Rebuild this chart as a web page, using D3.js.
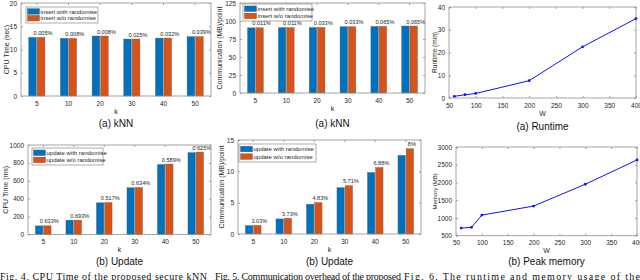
<!DOCTYPE html>
<html>
<head>
<meta charset="utf-8">
<script src="https://cdn.jsdelivr.net/npm/d3@7"></script>
<style>
  body { margin: 0; background: #fff; }
  svg { display: block; font-family: "Liberation Sans", Arial, sans-serif; }
</style>
</head>
<body>
<svg id="fig" width="640" height="280"></svg>
<script>
// ---- data ----
var kCats = ["5", "10", "20", "30", "40", "50"];

var knnCpuWith    = [12.6, 12.4, 12.9, 12.25, 12.45, 12.75];
var knnCpuWithout = [12.6, 12.4, 12.9, 12.25, 12.45, 12.75];
var knnCpuPct     = ["0.005%", "0.008%", "0.008%", "0.025%", "0.032%", "0.039%"];

var knnCommWith    = [90.5, 90.7, 91.0, 92.0, 92.5, 93.0];
var knnCommWithout = [90.5, 90.7, 91.0, 92.0, 92.5, 93.0];
var knnCommPct     = ["0.011%", "0.011%", "0.033%", "0.033%", "0.065%", "0.065%"];

var updCpuWith    = [96, 160, 354, 522, 782, 915];
var updCpuWithout = [97, 161, 356, 525, 787, 921];
var updCpuPct     = ["0.633%", "0.693%", "0.517%", "0.634%", "0.589%", "0.625%"];

var updCommWith    = [1.33, 2.4, 4.75, 7.4, 9.8, 12.55];
var updCommWithout = [1.37, 2.5, 5.0, 7.7, 10.6, 13.6];
var updCommPct     = ["3.03%", "3.73%", "4.83%", "5.71%", "6.88%", "8%"];

var wVals      = [60, 80, 100, 200, 300, 400];
var runtimeMin = [0.73, 1.45, 2.0, 7.6, 22.5, 34.9];
var memoryMB   = [715, 735, 1080, 1335, 1950, 2635];

var blue = "#0072BD", orange = "#D95319", axisCol = "#8f8f8f", txtCol = "#262626";
var fmt = d3.format("d");

var svg = d3.select("#fig");

function frame(g, box) {
  // MATLAB-like box round the plot area
  g.append("rect")
    .attr("x", box.left).attr("y", box.top)
    .attr("width", box.right - box.left).attr("height", box.bottom - box.top)
    .attr("fill", "none").attr("stroke", axisCol).attr("stroke-width", 0.8);
}

function styleAxis(sel) {
  sel.select(".domain").remove();
  sel.selectAll(".tick line").attr("stroke", axisCol).attr("stroke-width", 0.8);
  sel.selectAll(".tick text").attr("fill", txtCol).style("font-size", "6.5px")
    .style("font-family", "Liberation Sans, Arial, sans-serif");
}

function labels(g, box, cfg) {
  g.append("text")
    .attr("transform", "translate(" + cfg.ylx + "," + ((box.top + box.bottom) / 2) + ") rotate(-90)")
    .attr("text-anchor", "middle").attr("dy", "0.35em")
    .style("font-size", cfg.ylSize || "7px").attr("fill", txtCol)
    .text(cfg.ylabel);
  g.append("text")
    .attr("x", (box.left + box.right) / 2).attr("y", box.bottom + 17.5)
    .attr("text-anchor", "middle").style("font-size", "7px").attr("fill", txtCol)
    .text(cfg.xlabel);
  g.append("text")
    .attr("x", (box.left + box.right) / 2).attr("y", cfg.capy)
    .attr("text-anchor", "middle").style("font-size", "10px").attr("fill", "#111")
    .text(cfg.caption);
}

function drawBars(cfg) {
  var box = cfg.box;
  var g = svg.append("g");
  var x0 = d3.scaleBand().domain(kCats).range([box.left, box.right]).padding(0);
  var bw = x0.bandwidth();
  var x1 = d3.scaleBand().domain(["with", "without"])
    .range([bw * 0.245, bw * 0.755]).paddingInner(0.1);
  var y = d3.scaleLinear().domain(cfg.ydom).range([box.bottom, box.top]);

  var rows = kCats.map(function (k, i) {
    return { k: k, with: cfg.a[i], without: cfg.b[i], pct: cfg.pct[i] };
  });

  var groups = g.selectAll(".grp").data(rows).enter().append("g")
    .attr("transform", function (d) { return "translate(" + x0(d.k) + ",0)"; });
  groups.selectAll("rect")
    .data(function (d) { return [{ key: "with", v: d.with }, { key: "without", v: d.without }]; })
    .enter().append("rect")
    .attr("x", function (d) { return x1(d.key); })
    .attr("width", x1.bandwidth())
    .attr("y", function (d) { return y(d.v); })
    .attr("height", function (d) { return y(cfg.ydom[0]) - y(d.v); })
    .attr("fill", function (d) { return d.key === "with" ? blue : orange; })
    .attr("stroke", "#5a5a5a").attr("stroke-width", 0.4);
  groups.append("text")
    .attr("x", x1("without") + x1.bandwidth() / 2 + 2)
    .attr("y", function (d) { return y(d.without) - 2.5; })
    .attr("text-anchor", "middle").style("font-size", "5.6px").attr("fill", txtCol)
    .text(function (d) { return d.pct; });

  var ax = g.append("g").attr("transform", "translate(0," + box.bottom + ")")
    .call(d3.axisBottom(x0).tickSizeInner(-2).tickSizeOuter(0).tickPadding(5));
  styleAxis(ax);
  var axT = g.append("g").attr("transform", "translate(0," + box.top + ")")
    .call(d3.axisTop(x0).tickSizeInner(-2).tickSizeOuter(0).tickFormat(""));
  styleAxis(axT);
  var ay = g.append("g").attr("transform", "translate(" + box.left + ",0)")
    .call(d3.axisLeft(y).tickValues(cfg.yticks).tickFormat(fmt)
      .tickSizeInner(-2).tickSizeOuter(0).tickPadding(4));
  styleAxis(ay);
  var ayR = g.append("g").attr("transform", "translate(" + box.right + ",0)")
    .call(d3.axisRight(y).tickValues(cfg.yticks).tickSizeInner(-2).tickSizeOuter(0).tickFormat(""));
  styleAxis(ayR);
  frame(g, box);

  // legend
  var L = cfg.legend;
  var lg = g.append("g");
  lg.append("rect").attr("x", L.x).attr("y", L.y).attr("width", L.w).attr("height", L.h)
    .attr("fill", "#fff").attr("stroke", "#777").attr("stroke-width", 0.6);
  [[blue, cfg.names[0]], [orange, cfg.names[1]]].forEach(function (e, i) {
    var cy = L.y + L.h * (i === 0 ? 0.28 : 0.7);
    lg.append("rect").attr("x", L.x + 1.5).attr("y", cy - 2.8).attr("width", 12).attr("height", 5.6)
      .attr("fill", e[0]).attr("stroke", "#5a5a5a").attr("stroke-width", 0.4);
    lg.append("text").attr("x", L.x + 14.5).attr("y", cy).attr("dy", "0.35em")
      .style("font-size", "6px").attr("fill", txtCol).text(e[1]);
  });

  labels(g, box, cfg);
}

function drawLine(cfg) {
  var box = cfg.box;
  var g = svg.append("g");
  var x = d3.scaleLinear().domain([50, 400]).range([box.left, box.right]);
  var y = d3.scaleLinear().domain(cfg.ydom).range([box.bottom, box.top]);
  var xt = d3.range(50, 401, 50);

  var ax = g.append("g").attr("transform", "translate(0," + box.bottom + ")")
    .call(d3.axisBottom(x).tickValues(xt).tickSizeInner(-2).tickSizeOuter(0).tickPadding(5));
  styleAxis(ax);
  var axT = g.append("g").attr("transform", "translate(0," + box.top + ")")
    .call(d3.axisTop(x).tickValues(xt).tickSizeInner(-2).tickSizeOuter(0).tickFormat(""));
  styleAxis(axT);
  var ay = g.append("g").attr("transform", "translate(" + box.left + ",0)")
    .call(d3.axisLeft(y).tickValues(cfg.yticks).tickFormat(fmt)
      .tickSizeInner(-2).tickSizeOuter(0).tickPadding(4));
  styleAxis(ay);
  var ayR = g.append("g").attr("transform", "translate(" + box.right + ",0)")
    .call(d3.axisRight(y).tickValues(cfg.yticks).tickSizeInner(-2).tickSizeOuter(0).tickFormat(""));
  styleAxis(ayR);
  frame(g, box);

  var pts = wVals.map(function (w, i) { return [w, cfg.vals[i]]; });
  var line = d3.line()
    .x(function (d) { return x(d[0]); })
    .y(function (d) { return y(d[1]); });
  g.append("path").datum(pts).attr("d", line)
    .attr("fill", "none").attr("stroke", "#1010ff").attr("stroke-width", 1);
  g.selectAll(".pt").data(pts).enter().append("circle")
    .attr("cx", function (d) { return x(d[0]); })
    .attr("cy", function (d) { return y(d[1]); })
    .attr("r", 1.4).attr("fill", "#1010ff");

  labels(g, box, cfg);
}

drawBars({
  box: { left: 21, right: 211, top: 3, bottom: 96 },
  ydom: [0, 20], yticks: [0, 5, 10, 15, 20],
  a: knnCpuWith, b: knnCpuWithout, pct: knnCpuPct,
  names: ["insert with randomise", "insert w/o randomise"],
  legend: { x: 26, y: 7, w: 72, h: 16 },
  ylabel: "CPU Time (sec)", ylx: 7, xlabel: "k",
  caption: "(a) kNN", capy: 127
});
drawBars({
  box: { left: 240, right: 425, top: 3, bottom: 93 },
  ydom: [0, 125], yticks: [0, 25, 50, 75, 100, 125],
  a: knnCommWith, b: knnCommWithout, pct: knnCommPct,
  names: ["insert with randomise", "insert w/o randomise"],
  legend: { x: 243, y: 4, w: 69, h: 17 },
  ylabel: "Communication (MB)/point", ylx: 220, xlabel: "k",
  caption: "(a) kNN", capy: 127
});
drawLine({
  box: { left: 449, right: 636, top: 7, bottom: 98 },
  ydom: [0, 40], yticks: [0, 10, 20, 30, 40], vals: runtimeMin,
  ylabel: "Runtime (min)", ylx: 435, ylSize: "6.5px", xlabel: "W",
  caption: "(a) Runtime", capy: 130
});
drawBars({
  box: { left: 28, right: 211, top: 145, bottom: 234.5 },
  ydom: [0, 1000], yticks: [0, 200, 400, 600, 800, 1000],
  a: updCpuWith, b: updCpuWithout, pct: updCpuPct,
  names: ["update with randomise", "update w/o randomise"],
  legend: { x: 32, y: 148, w: 71, h: 17 },
  ylabel: "CPU Time (ms)", ylx: 6, xlabel: "k",
  caption: "(b) Update", capy: 265
});
drawBars({
  box: { left: 238, right: 421, top: 140, bottom: 234 },
  ydom: [0, 15], yticks: [0, 5, 10, 15],
  a: updCommWith, b: updCommWithout, pct: updCommPct,
  names: ["update with randomise", "update w/o randomise"],
  legend: { x: 239, y: 144, w: 77, h: 18 },
  ylabel: "Communication (MB)/point", ylx: 222, xlabel: "k",
  caption: "(b) Update", capy: 265
});
drawLine({
  box: { left: 456, right: 637, top: 147, bottom: 235.7 },
  ydom: [500, 3000], yticks: [500, 1000, 1500, 2000, 2500, 3000], vals: memoryMB,
  ylabel: "Memory (MB)", ylx: 435, ylSize: "6px", xlabel: "W",
  caption: "(b) Peak memory", capy: 265
});

// figure captions, cut off by the bottom edge as in the source
var caps = [
  { x0: 0, x1: 207, t: "Fig. 4.  CPU Time of the proposed secure kNN" },
  { x0: 215, x1: 401, t: "Fig. 5.  Communication overhead of the proposed" },
  { x0: 404, x1: 640, t: "Fig. 6.  The runtime and memory usage of the" }
];
svg.selectAll(".cap").data(caps).enter().append("text")
  .attr("x", function (d) { return d.x0; }).attr("y", 280)
  .attr("textLength", function (d) { return d.x1 - d.x0; })
  .attr("lengthAdjust", "spacing")
  .style("font-family", "Liberation Serif, Times New Roman, serif")
  .style("font-size", "10px").attr("fill", "#111")
  .text(function (d) { return d.t; });
</script>
</body>
</html>
